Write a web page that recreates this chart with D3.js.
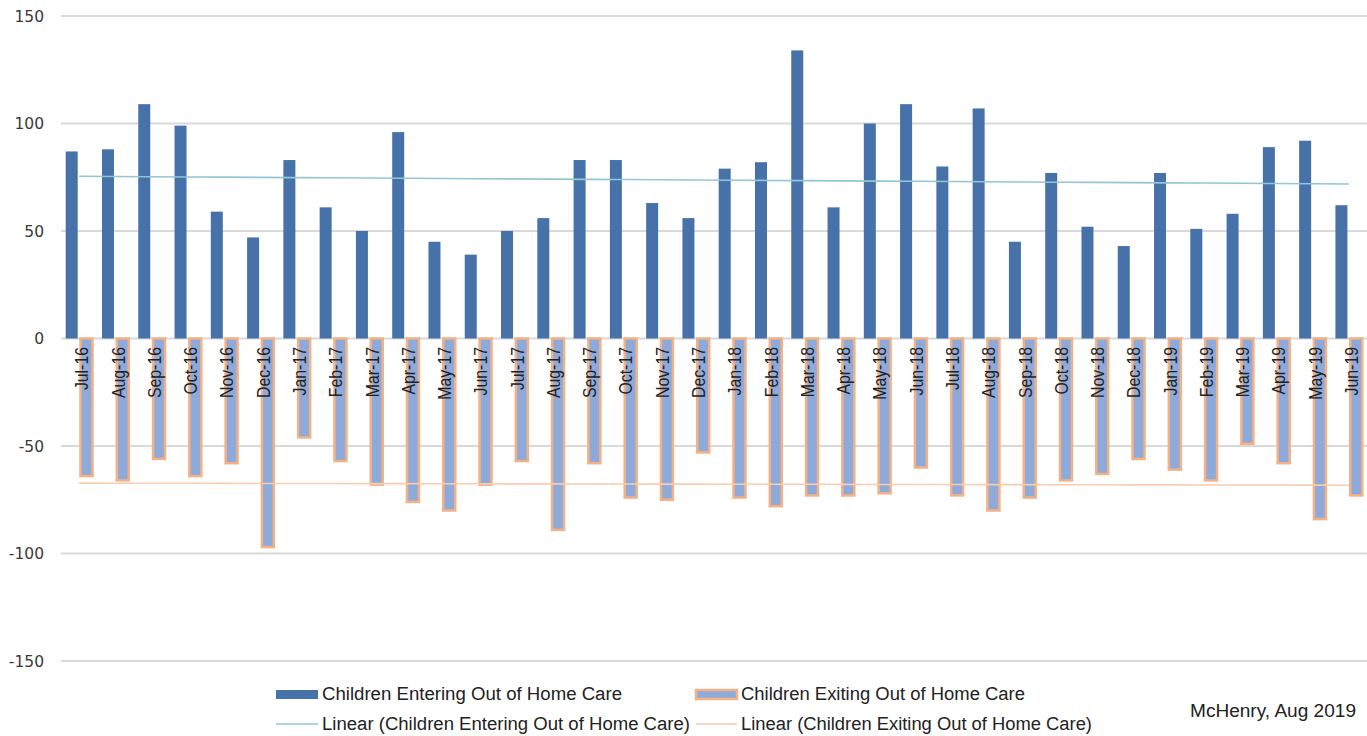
<!DOCTYPE html>
<html>
<head>
<meta charset="utf-8">
<script src="https://cdn.jsdelivr.net/npm/d3@7"></script>
<style>
  html, body { margin: 0; padding: 0; background: #ffffff; }
  svg { display: block; }
</style>
</head>
<body>
<svg id="chart" width="1367" height="736"></svg>
<script>
// Monthly categories, July 2016 through June 2019
const months = [
  "Jul-16","Aug-16","Sep-16","Oct-16","Nov-16","Dec-16",
  "Jan-17","Feb-17","Mar-17","Apr-17","May-17","Jun-17",
  "Jul-17","Aug-17","Sep-17","Oct-17","Nov-17","Dec-17",
  "Jan-18","Feb-18","Mar-18","Apr-18","May-18","Jun-18",
  "Jul-18","Aug-18","Sep-18","Oct-18","Nov-18","Dec-18",
  "Jan-19","Feb-19","Mar-19","Apr-19","May-19","Jun-19"
];

// Children entering out of home care (positive counts)
const entering = [
  87, 88, 109, 99, 59, 47,
  83, 61, 50, 96, 45, 39,
  50, 56, 83, 83, 63, 56,
  79, 82, 134, 61, 100, 109,
  80, 107, 45, 77, 52, 43,
  77, 51, 58, 89, 92, 62
];

// Children exiting out of home care (shown as negative counts)
const exiting = [
  -64, -66, -56, -64, -58, -97,
  -46, -57, -68, -76, -80, -68,
  -57, -89, -58, -74, -75, -53,
  -74, -78, -73, -73, -72, -60,
  -73, -80, -74, -66, -63, -56,
  -61, -66, -49, -58, -84, -73
];

const yTicks = [150, 100, 50, 0, -50, -100, -150];

const seriesNames = [
  "Children Entering Out of Home Care",
  "Children Exiting Out of Home Care"
];
const credit = "McHenry, Aug 2019";

// Colours
const cEnter = "#4672a9";
const cExitFill = "#8eaadb";
const cExitEdge = "#f4b183";
const cEnterTrend = "#93c6d2";
const cExitTrend = "#f8cdb0";
const cGrid = "#d9d9d9";
const cText = "#3a3a3a";

const svg = d3.select("#chart");

const x = d3.scaleBand().domain(months).range([61, 1367]).paddingInner(0).paddingOuter(0);
const y = d3.scaleLinear().domain([-150, 150]).range([661, 16]);

const step = x.bandwidth();
const barW = 12;
const enterOff = 4.7;
const exitOff = 19.5;

// Horizontal gridlines
svg.append("g")
  .selectAll("line")
  .data(yTicks)
  .join("line")
  .attr("x1", 61).attr("x2", 1367)
  .attr("y1", d => y(d)).attr("y2", d => y(d))
  .attr("stroke", cGrid)
  .attr("stroke-width", 2);

// Y axis labels
svg.append("g")
  .selectAll("text")
  .data(yTicks)
  .join("text")
  .attr("x", 44)
  .attr("y", d => y(d))
  .attr("dy", "0.36em")
  .attr("text-anchor", "end")
  .attr("font-family", "DejaVu Sans, sans-serif")
  .attr("font-size", 15.5)
  .attr("fill", cText)
  .text(d => d);

// Linear trend helper (least squares over month index)
function linearFit(vals) {
  const n = vals.length;
  const xs = d3.range(n);
  const mx = d3.mean(xs), my = d3.mean(vals);
  let sxy = 0, sxx = 0;
  xs.forEach((xi, i) => { sxy += (xi - mx) * (vals[i] - my); sxx += (xi - mx) * (xi - mx); });
  const b = sxy / sxx, a = my - b * mx;
  return xs.map(i => a + b * i);
}

// Entering bars
svg.append("g")
  .selectAll("rect")
  .data(entering)
  .join("rect")
  .attr("x", (d, i) => x(months[i]) + enterOff)
  .attr("width", barW)
  .attr("y", d => y(d))
  .attr("height", d => y(0) - y(d))
  .attr("fill", cEnter);

// Exiting bars
svg.append("g")
  .selectAll("rect")
  .data(exiting)
  .join("rect")
  .attr("x", (d, i) => x(months[i]) + exitOff)
  .attr("width", barW)
  .attr("y", y(0))
  .attr("height", d => y(d) - y(0))
  .attr("fill", cExitFill)
  .attr("stroke", cExitEdge)
  .attr("stroke-width", 2.5);

// Trend lines
const trendLine = d3.line()
  .x((d, i) => x(months[i]) + step / 2)
  .y(d => y(d));

svg.append("path")
  .datum(linearFit(entering))
  .attr("d", trendLine)
  .attr("fill", "none")
  .attr("stroke", cEnterTrend)
  .attr("stroke-width", 1.6);

svg.append("path")
  .datum(linearFit(exiting))
  .attr("d", trendLine)
  .attr("fill", "none")
  .attr("stroke", cExitTrend)
  .attr("stroke-width", 1.6);

// Month labels, rotated to read bottom-to-top, slightly condensed
svg.append("g")
  .selectAll("text")
  .data(months)
  .join("text")
  .attr("transform", d => `translate(${x(d) + 21},347) rotate(-90) scale(0.88,1)`)
  .attr("text-anchor", "end")
  .attr("dy", "0.35em")
  .attr("font-family", "Liberation Sans, Arial, sans-serif")
  .attr("font-size", 18)
  .attr("fill", "#222")
  .text(d => d);

// Legend
const legend = svg.append("g")
  .attr("font-family", "Liberation Sans, Arial, sans-serif")
  .attr("font-size", 18)
  .attr("fill", "#222");

legend.append("rect")
  .attr("x", 276).attr("y", 690).attr("width", 42).attr("height", 9)
  .attr("fill", cEnter);
legend.append("text")
  .attr("x", 322).attr("y", 694).attr("dy", "0.35em")
  .attr("textLength", 300).attr("lengthAdjust", "spacingAndGlyphs")
  .text(seriesNames[0]);

legend.append("rect")
  .attr("x", 696).attr("y", 690).attr("width", 41).attr("height", 9)
  .attr("fill", cExitFill).attr("stroke", cExitEdge).attr("stroke-width", 2.5);
legend.append("text")
  .attr("x", 741).attr("y", 694).attr("dy", "0.35em")
  .attr("textLength", 284).attr("lengthAdjust", "spacingAndGlyphs")
  .text(seriesNames[1]);

legend.append("line")
  .attr("x1", 276).attr("x2", 318).attr("y1", 724).attr("y2", 724)
  .attr("stroke", cEnterTrend).attr("stroke-width", 1.6);
legend.append("text")
  .attr("x", 322).attr("y", 724).attr("dy", "0.35em")
  .attr("textLength", 368).attr("lengthAdjust", "spacingAndGlyphs")
  .text(`Linear (${seriesNames[0]})`);

legend.append("line")
  .attr("x1", 696).attr("x2", 737).attr("y1", 724).attr("y2", 724)
  .attr("stroke", cExitTrend).attr("stroke-width", 1.6);
legend.append("text")
  .attr("x", 741).attr("y", 724).attr("dy", "0.35em")
  .attr("textLength", 351).attr("lengthAdjust", "spacingAndGlyphs")
  .text(`Linear (${seriesNames[1]})`);

legend.append("text")
  .attr("x", 1190).attr("y", 711).attr("dy", "0.35em")
  .attr("textLength", 166).attr("lengthAdjust", "spacingAndGlyphs")
  .text(credit);
</script>
</body>
</html>
